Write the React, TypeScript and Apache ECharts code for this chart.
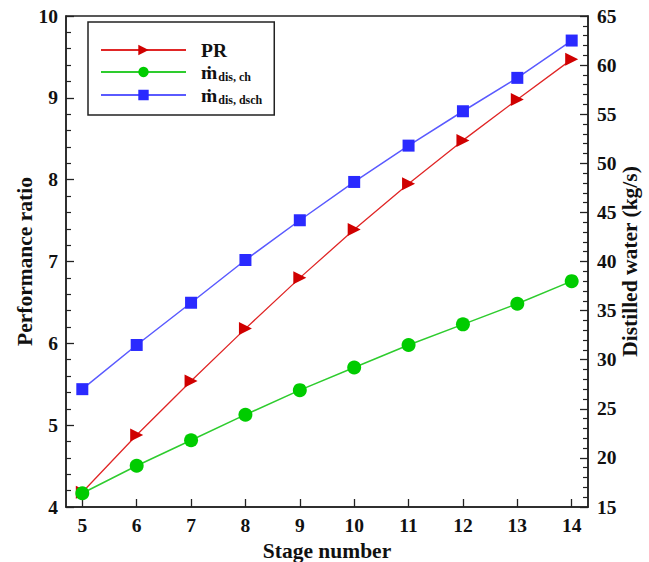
import React, { useEffect, useRef } from "react";
import * as echarts from "echarts";

const stages = [5, 6, 7, 8, 9, 10, 11, 12, 13, 14];
const performanceRatio = [4.18, 4.88, 5.54, 6.18, 6.8, 7.39, 7.95, 8.48, 8.98, 9.47];
const distilledCh = [16.4, 19.2, 21.8, 24.4, 26.9, 29.2, 31.5, 33.6, 35.7, 38.0];
const distilledDsch = [27.0, 31.5, 35.8, 40.15, 44.2, 48.1, 51.8, 55.3, 58.7, 62.5];
const xTickValues = [5, 6, 7, 8, 9, 10, 11, 12, 13, 14];

const FONT = "Liberation Serif";

export default function App() {
  const ref = useRef<HTMLDivElement>(null);
  useEffect(() => {
    if (!ref.current) return;
    const chart = echarts.init(ref.current, undefined, { renderer: "svg" });
    const axisLabelStyle = {
      fontFamily: FONT,
      fontWeight: "bold" as const,
      fontSize: 19.5,
      color: "#111",
    };
    const nameStyle = {
      fontFamily: FONT,
      fontWeight: "bold" as const,
      fontSize: 21.5,
      color: "#111",
    };
    const axisLine = { show: true, lineStyle: { color: "#222", width: 1.5 } };
    chart.setOption({
      animation: false,
      backgroundColor: "#fff",
      grid: {
        left: 66,
        right: 61,
        top: 16,
        bottom: 55,
        outerBoundsMode: "none",
        containLabel: false,
        show: true,
        borderColor: "#222",
        borderWidth: 1.5,
        backgroundColor: "transparent",
      },
      legend: {
        orient: "vertical",
        left: 88,
        top: 22,
        padding: [18, 12, 9, 12],
        borderColor: "#222",
        borderWidth: 1.5,
        itemWidth: 85,
        itemHeight: 13,
        itemGap: 1,
        data: ["PR", "m_ch", "m_dsch"],
        formatter: (name: string) => {
          if (name === "PR") return "{b|PR}";
          if (name === "m_ch") return "{b|ṁ}{s|dis, ch}";
          return "{b|ṁ}{s|dis, dsch}";
        },
        textStyle: {
          fontFamily: FONT,
          fontWeight: "bold",
          color: "#111",
          padding: [0, 0, 0, 10],
          lineHeight: 18,
          rich: {
            b: {
              fontFamily: FONT,
              fontWeight: "bold",
              fontSize: 19.5,
              color: "#111",
              lineHeight: 18,
            },
            s: {
              fontFamily: FONT,
              fontWeight: "bold",
              fontSize: 12,
              color: "#111",
              lineHeight: 8,
              padding: [10, 0, 0, 1],
            },
          },
        },
      },
      xAxis: {
        type: "value",
        min: 4.7,
        max: 14.3,
        name: "Stage number",
        nameLocation: "middle",
        nameGap: 32,
        nameTextStyle: nameStyle,
        axisLine,
        splitLine: { show: false },
        axisTick: {
          show: true,
          inside: true,
          length: 8,
          customValues: xTickValues,
          lineStyle: { color: "#222", width: 1.3 },
        },
        axisLabel: {
          ...axisLabelStyle,
          margin: 8,
          customValues: xTickValues,
        },
      },
      yAxis: [
        {
          type: "value",
          min: 4,
          max: 10,
          interval: 1,
          name: "Performance ratio",
          nameLocation: "middle",
          nameGap: 30,
          nameMoveOverlap: false,
          nameTextStyle: nameStyle,
          axisLine,
          splitLine: { show: false },
          axisTick: { show: true, inside: true, length: 8, lineStyle: { color: "#222", width: 1.3 } },
          minorTick: { show: true, splitNumber: 5, length: 5, lineStyle: { color: "#222", width: 1.2 } },
          minorSplitLine: { show: false },
          axisLabel: { ...axisLabelStyle, margin: 8 },
        },
        {
          type: "value",
          min: 15,
          max: 65,
          interval: 5,
          position: "right",
          name: "Distilled water (kg/s)",
          nameLocation: "middle",
          nameGap: 31,
          nameMoveOverlap: false,
          nameRotate: 90,
          nameTextStyle: nameStyle,
          axisLine,
          splitLine: { show: false },
          axisTick: { show: true, inside: true, length: 8, lineStyle: { color: "#222", width: 1.3 } },
          minorTick: { show: true, splitNumber: 5, length: 5, lineStyle: { color: "#222", width: 1.2 } },
          minorSplitLine: { show: false },
          axisLabel: { ...axisLabelStyle, margin: 9 },
        },
      ],
      series: [
        {
          name: "PR",
          type: "line",
          yAxisIndex: 0,
          data: stages.map((s, i) => [s, performanceRatio[i]]),
          symbol: "triangle",
          symbolRotate: -90,
          symbolSize: 13,
          lineStyle: { color: "#e02626", width: 1.3 },
          itemStyle: { color: "#d00000" },
          z: 3,
        },
        {
          name: "m_ch",
          type: "line",
          yAxisIndex: 1,
          data: stages.map((s, i) => [s, distilledCh[i]]),
          symbol: "circle",
          symbolSize: 14,
          lineStyle: { color: "#2ecc2e", width: 1.5 },
          itemStyle: { color: "#00cc00" },
          z: 4,
        },
        {
          name: "m_dsch",
          type: "line",
          yAxisIndex: 1,
          data: stages.map((s, i) => [s, distilledDsch[i]]),
          symbol: "rect",
          symbolSize: 12,
          lineStyle: { color: "#5a5aff", width: 1.5 },
          itemStyle: { color: "#2a2aff" },
          z: 2,
        },
      ],
    });
    return () => chart.dispose();
  }, []);
  return (
    <div
      ref={ref}
      style={{ position: "fixed", left: 0, top: 0, width: 649, height: 562, background: "#fff" }}
    />
  );
}
